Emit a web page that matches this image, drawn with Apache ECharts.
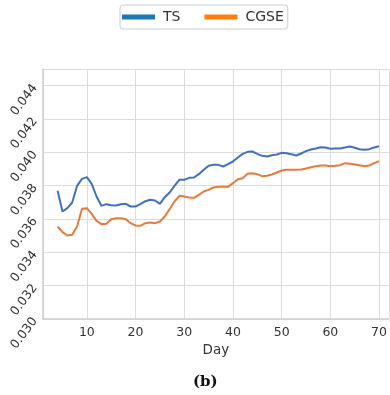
<!DOCTYPE html>
<html><head><meta charset="utf-8">
<script src="https://cdn.jsdelivr.net/npm/echarts@6/dist/echarts.min.js"></script>
<style>html,body{margin:0;padding:0;background:#fff}#c{width:390px;height:395px}</style>
</head><body><div id="c"></div>
<script>
var days = [];
for (var d = 4; d <= 70; d++) days.push(d);
var tsValues = [
 0.03769,0.03645,0.03665,0.03699,0.03799,0.03841,0.03851,0.03811,0.03735,0.03679,
 0.03689,0.03683,0.03681,0.03689,0.03691,0.03675,0.03675,0.03689,0.03707,0.03715,
 0.03711,0.03691,0.03731,0.03759,0.03799,0.03835,0.03835,0.03847,0.03849,0.03869,
 0.03895,0.03919,0.03925,0.03925,0.03915,0.03929,0.03945,0.03969,0.03991,0.04003,
 0.04005,0.03991,0.03979,0.03975,0.03983,0.03987,0.03997,0.03995,0.03989,0.03981,
 0.03993,0.04007,0.04017,0.04023,0.04031,0.04029,0.04021,0.04023,0.04023,0.04029,
 0.04035,0.04027,0.04019,0.04015,0.04019,0.04029,0.04037
];
var cgseValues = [
 0.03555,0.03521,0.03501,0.03505,0.03555,0.03661,0.03665,0.03631,0.03589,0.03569,
 0.03571,0.03599,0.03605,0.03605,0.03599,0.03575,0.03561,0.03559,0.03575,0.03579,
 0.03575,0.03585,0.03615,0.03659,0.03705,0.03739,0.03735,0.03729,0.03727,0.03745,
 0.03765,0.03775,0.03789,0.03793,0.03793,0.03793,0.03815,0.03839,0.03845,0.03871,
 0.03875,0.03869,0.03857,0.03859,0.03867,0.03879,0.03891,0.03895,0.03895,0.03895,
 0.03897,0.03903,0.03911,0.03917,0.03921,0.03921,0.03917,0.03919,0.03923,0.03935,
 0.03931,0.03927,0.03923,0.03917,0.03921,0.03935,0.03947
];
var seriesNames = ['TS', 'CGSE'];
var xTitle = 'Day';
var caption = '(b)';

function pairs(vals){ return days.map(function(d,i){ return [d, vals[i]]; }); }

var chart = echarts.init(document.getElementById('c'), null, {renderer:'canvas'});
var font = 'DejaVu Sans';
chart.setOption({
  animation: false,
  backgroundColor: '#fff',
  textStyle: {fontFamily: font},
  legend: {
    left: 120, top: 5,
    padding: [5, 4, 5, 2],
    borderColor: '#cccccc', borderWidth: 1, borderRadius: 3,
    itemWidth: 33, itemHeight: 5, itemGap: 24,
    icon: 'rect',
    textStyle: {fontFamily: font, fontSize: 14, color: '#333', padding: [0,0,0,3]},
    data: [
      {name: seriesNames[0], itemStyle: {color: '#1f77b4'}},
      {name: seriesNames[1], itemStyle: {color: '#ff7f0e'}}
    ]
  },
  grid: {left: 43, right: 0, top: 69, bottom: 76, containLabel: false},
  xAxis: {
    type: 'value', min: 1, max: 72, splitNumber: 7,
    name: xTitle, nameLocation: 'middle', nameGap: 24,
    nameTextStyle: {fontFamily: font, fontSize: 13.5, color: '#333'},
    axisLine: {show: true, lineStyle: {color: '#cfcfcf', width: 1.5}},
    axisTick: {show: false},
    axisLabel: {fontFamily: font, fontSize: 12.5, color: '#333', margin: 7, showMinLabel: false, showMaxLabel: false},
    splitLine: {show: true, lineStyle: {color: '#dcdcdc', width: 1}}
  },
  yAxis: {
    type: 'value', min: 0.030, max: 0.045, interval: 0.002,
    axisLine: {show: true, lineStyle: {color: '#cfcfcf', width: 1.5}},
    axisTick: {show: false},
    axisLabel: {fontFamily: font, fontSize: 12.5, color: '#333', rotate: 53, margin: 8,
      showMaxLabel: false,
      formatter: function(v){ return v.toFixed(3); }},
    splitLine: {show: true, lineStyle: {color: '#dcdcdc', width: 1}}
  },
  series: [
    {name: seriesNames[0], type: 'line', data: pairs(tsValues), showSymbol: false, symbol: 'none',
     lineStyle: {color: '#4170c0', width: 2}, itemStyle: {color: '#4170c0'}},
    {name: seriesNames[1], type: 'line', data: pairs(cgseValues), showSymbol: false, symbol: 'none',
     lineStyle: {color: '#e87a3c', width: 2}, itemStyle: {color: '#e87a3c'}}
  ],
  graphic: [{
    type: 'text', left: 193, top: 375,
    style: {text: caption, font: 'bold 15px "DejaVu Serif", "Liberation Serif", serif', fill: '#111'}
  }]
});
</script></body></html>
